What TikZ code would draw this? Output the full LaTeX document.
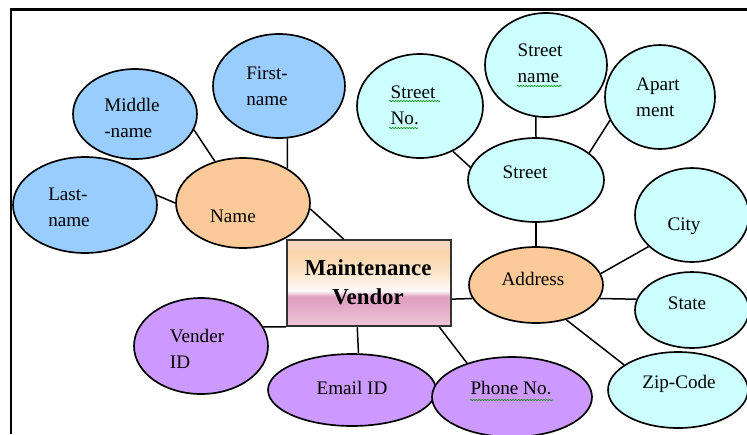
\documentclass[tikz,border=0pt]{standalone}
\usepackage{fontspec}
\setmainfont{Liberation Serif}
\usetikzlibrary{shapes.geometric}
\usetikzlibrary{decorations.pathmorphing}
\definecolor{attrblue}{RGB}{153,204,255}
\definecolor{attrtan}{RGB}{252,202,152}
\definecolor{attrcyan}{RGB}{204,255,255}
\definecolor{attrlilac}{RGB}{204,153,255}
\definecolor{vbottom}{RGB}{238,200,216}
\definecolor{vpink}{RGB}{226,166,198}
\definecolor{vpinkdeep}{RGB}{222,160,192}
\definecolor{vwhite}{RGB}{255,250,250}
\definecolor{vlight}{RGB}{252,232,208}
\definecolor{vpeach}{RGB}{250,213,168}
\definecolor{vtop}{RGB}{248,216,200}
\pgfdeclareverticalshading{vendorshade}{100bp}{
  color(0bp)=(vbottom);
  color(25bp)=(vbottom);
  color(37.5bp)=(vpink);
  color(42bp)=(vpinkdeep);
  color(45.5bp)=(vwhite);
  color(55bp)=(vlight);
  color(67bp)=(vpeach);
  color(75bp)=(vtop);
  color(100bp)=(vtop)}
\tikzset{
  attr/.style={ellipse, draw=black, line width=0.95pt, inner sep=0pt},
  entity/.style={rectangle, draw=black!80, line width=1pt, shading=vendorshade, inner sep=0pt},
  txt/.style={font=\fontsize{10.9}{14.7}\selectfont, align=left, inner sep=0pt},
  link/.style={line width=0.85pt},
  squiggle/.style={draw=green!55!black, line width=0.35pt, decorate,
    decoration={snake, amplitude=0.35pt, segment length=1.6pt}}
}
\begin{document}
\begin{tikzpicture}[x=0.02cm,y=-0.02cm]
  \useasboundingbox (0,0) rectangle (747,434);
  \draw[line width=1.7pt] (11,434) -- (11,9) -- (747,9);

  % name part
  \node[attr, fill=attrblue, minimum width=2.88cm, minimum height=1.92cm] (lastname) at (85,205) {};
  \node[attr, fill=attrblue, minimum width=2.48cm, minimum height=1.80cm] (middlename) at (135,114) {};
  \node[attr, fill=attrblue, minimum width=2.64cm, minimum height=2.08cm] (firstname) at (279,86) {};
  \node[attr, fill=attrtan, minimum width=2.68cm, minimum height=1.80cm] (name) at (243,203) {};

  % address part
  \node[attr, fill=attrcyan, minimum width=2.52cm, minimum height=2.08cm] (streetno) at (420,106) {};
  \node[attr, fill=attrcyan, minimum width=2.44cm, minimum height=2.08cm] (streetname) at (546,65) {};
  \node[attr, fill=attrcyan, minimum width=2.20cm, minimum height=2.08cm] (apartment) at (660,97) {};
  \node[attr, fill=attrcyan, minimum width=2.72cm, minimum height=1.68cm] (street) at (536,180) {};
  \node[attr, fill=attrcyan, minimum width=2.28cm, minimum height=1.88cm] (city) at (692,215) {};
  \node[attr, fill=attrtan, minimum width=2.68cm, minimum height=1.52cm] (address) at (536,285) {};
  \node[attr, fill=attrcyan, minimum width=2.28cm, minimum height=1.52cm] (state) at (692,310) {};
  \node[attr, fill=attrcyan, minimum width=2.80cm, minimum height=1.52cm] (zipcode) at (678,390) {};

  % the rest
  \node[attr, fill=attrlilac, minimum width=2.68cm, minimum height=1.92cm] (venderid) at (201,346) {};
  \node[attr, fill=attrlilac, minimum width=3.36cm, minimum height=1.44cm] (email) at (352,390) {};
  \node[attr, fill=attrlilac, minimum width=3.20cm, minimum height=1.60cm] (phone) at (512,397) {};
  \node[entity, minimum width=3.28cm, minimum height=1.72cm] (vendor) at (369,283) {};

  \node[txt] (lastname-t) at (69,207) {Last-\\name};
  \node[txt] (middlename-t) at (132,118) {Middle\\-name};
  \node[txt] (firstname-t) at (267,86) {First-\\name};
  \node[txt] (name-t) at (233,216) {Name};
  \node[txt] (streetno-t) at (413,105) {Street\\No.};
  \node[txt] (streetname-t) at (540,63) {Street\\name};
  \node[txt] (apartment-t) at (658,97) {Apart\\ment};
  \node[txt] (street-t) at (525,172) {Street};
  \node[txt] (city-t) at (684,226) {City};
  \node[txt] (address-t) at (533,279) {Address};
  \node[txt] (state-t) at (687,303) {State};
  \node[txt] (zipcode-t) at (679,384) {Zip-Code};
  \node[txt] (venderid-t) at (197,349) {Vender\\ID};
  \node[txt] (email-t) at (352,388) {Email ID};
  \node[txt] (phone-t) at (511,388) {Phone No.};
  \node[txt, align=center, font=\fontsize{13}{16.4}\selectfont\bfseries] (vendor-t) at (368,282) {Maintenance\\Vendor};

  \path[squiggle] (389,101) -- (440,101);
  \path[squiggle] (389,128) -- (418,128);
  \path[squiggle] (517,86) -- (562,86);
  \path[squiggle] (470,400) -- (553,400);

  \draw[link] (middlename.-15) -- (name.124);
  \draw[link] (firstname.-81) -- (name.38);
  \draw[link] (lastname.8) -- (name.180);
  \draw[link] (name.-5) -- (vendor.120);
  \draw[link] (vendor.-11) -- (address.-168);
  \draw[link] (venderid.17) -- (vendor.south west);
  \draw[link] (vendor.-105) -- (email.80);
  \draw[link] (vendor.-32) -- (phone.143);
  \draw[link] (street.south) -- (address.north);
  \draw[link] (streetname.-101) -- (street.north);
  \draw[link] (streetno.-54) -- (street.169);
  \draw[link] (apartment.205) -- (street.27);
  \draw[link] (address.10) -- (city.216);
  \draw[link] (address.-12) -- (state.169);
  \draw[link] (address.-49) -- (zipcode.155);
\end{tikzpicture}
\end{document}
